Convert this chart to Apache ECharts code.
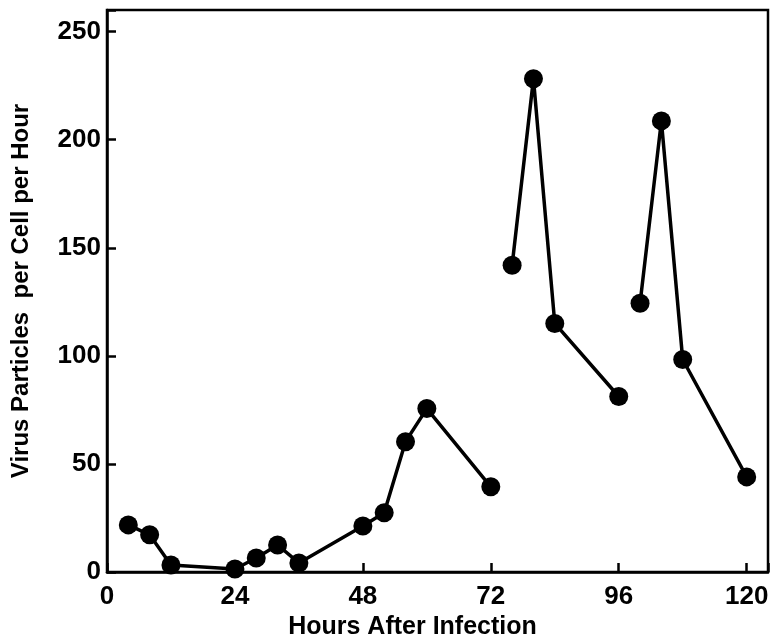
<!DOCTYPE html>
<html>
<head>
<meta charset="utf-8">
<script src="https://cdn.jsdelivr.net/npm/echarts@6/dist/echarts.min.js"></script>
<style>
  html, body { margin: 0; padding: 0; background: #fff; }
  #chart { width: 773px; height: 636px; }
</style>
</head>
<body>
<div id="chart"></div>
<script>
// hours after infection / virus particles per cell per hour, three runs
const hoursA = [4, 8, 12, 24, 28, 32, 36, 48, 52, 56, 60, 72];
const valuesA = [21.8, 17.2, 3.2, 1.4, 6.5, 12.5, 4.2, 21.3, 27.4, 60.3, 75.6, 39.4];
const hoursB = [76, 80, 84, 96];
const valuesB = [141.9, 228.2, 115, 81.2];
const hoursC = [100, 104, 108, 120];
const valuesC = [124.3, 208.7, 98.3, 44];

const xTicks = [0, 24, 48, 72, 96, 120];
const yTicks = [0, 50, 100, 150, 200, 250];

const font = '"Liberation Sans Narrow", "Liberation Sans", sans-serif';

function pairs(xs, ys) {
  return xs.map((x, i) => [x, ys[i]]);
}

function lineSeries(xs, ys) {
  return {
    type: 'line',
    data: pairs(xs, ys),
    symbol: 'circle',
    symbolSize: 19,
    lineStyle: { color: '#000', width: 3.5 },
    itemStyle: { color: '#000' },
    animation: false
  };
}

const chart = echarts.init(document.getElementById('chart'));
chart.setOption({
  backgroundColor: '#fff',
  grid: {
    left: 107, top: 10, right: 5, bottom: 64,
    outerBoundsMode: 'none',
    containLabel: false,
    show: true, borderColor: '#000', borderWidth: 2.5
  },
  xAxis: {
    type: 'value',
    min: 0, max: 124, interval: 24,
    name: 'Hours After Infection',
    nameLocation: 'middle',
    nameGap: 37,
    nameTextStyle: { fontFamily: font, fontWeight: 'bold', fontSize: 25, color: '#000', padding: [0, 50, 0, 0] },
    axisLine: { lineStyle: { color: '#000', width: 2.5 } },
    axisTick: { inside: true, length: 9, lineStyle: { color: '#000', width: 2.5 } },
    axisLabel: {
      margin: 12, fontFamily: font, fontWeight: 'bold', fontSize: 26, color: '#000',
      formatter: v => xTicks.includes(v) ? String(v) : ''
    },
    splitLine: { show: false }
  },
  yAxis: {
    type: 'value',
    min: 0, max: 260, interval: 50,
    name: 'Virus Particles  per Cell per Hour',
    nameLocation: 'middle',
    nameGap: 74,
    nameRotate: 90,
    nameTextStyle: { fontFamily: font, fontWeight: 'bold', fontSize: 24, color: '#000' },
    axisLine: { lineStyle: { color: '#000', width: 2.5 } },
    axisTick: { inside: true, length: 9, lineStyle: { color: '#000', width: 2.5 } },
    axisLabel: {
      margin: 6, fontFamily: font, fontWeight: 'bold', fontSize: 26, color: '#000',
      formatter: v => yTicks.includes(v) ? String(v) : ''
    },
    splitLine: { show: false }
  },
  series: [
    lineSeries(hoursA, valuesA),
    lineSeries(hoursB, valuesB),
    lineSeries(hoursC, valuesC)
  ]
});
</script>
</body>
</html>
